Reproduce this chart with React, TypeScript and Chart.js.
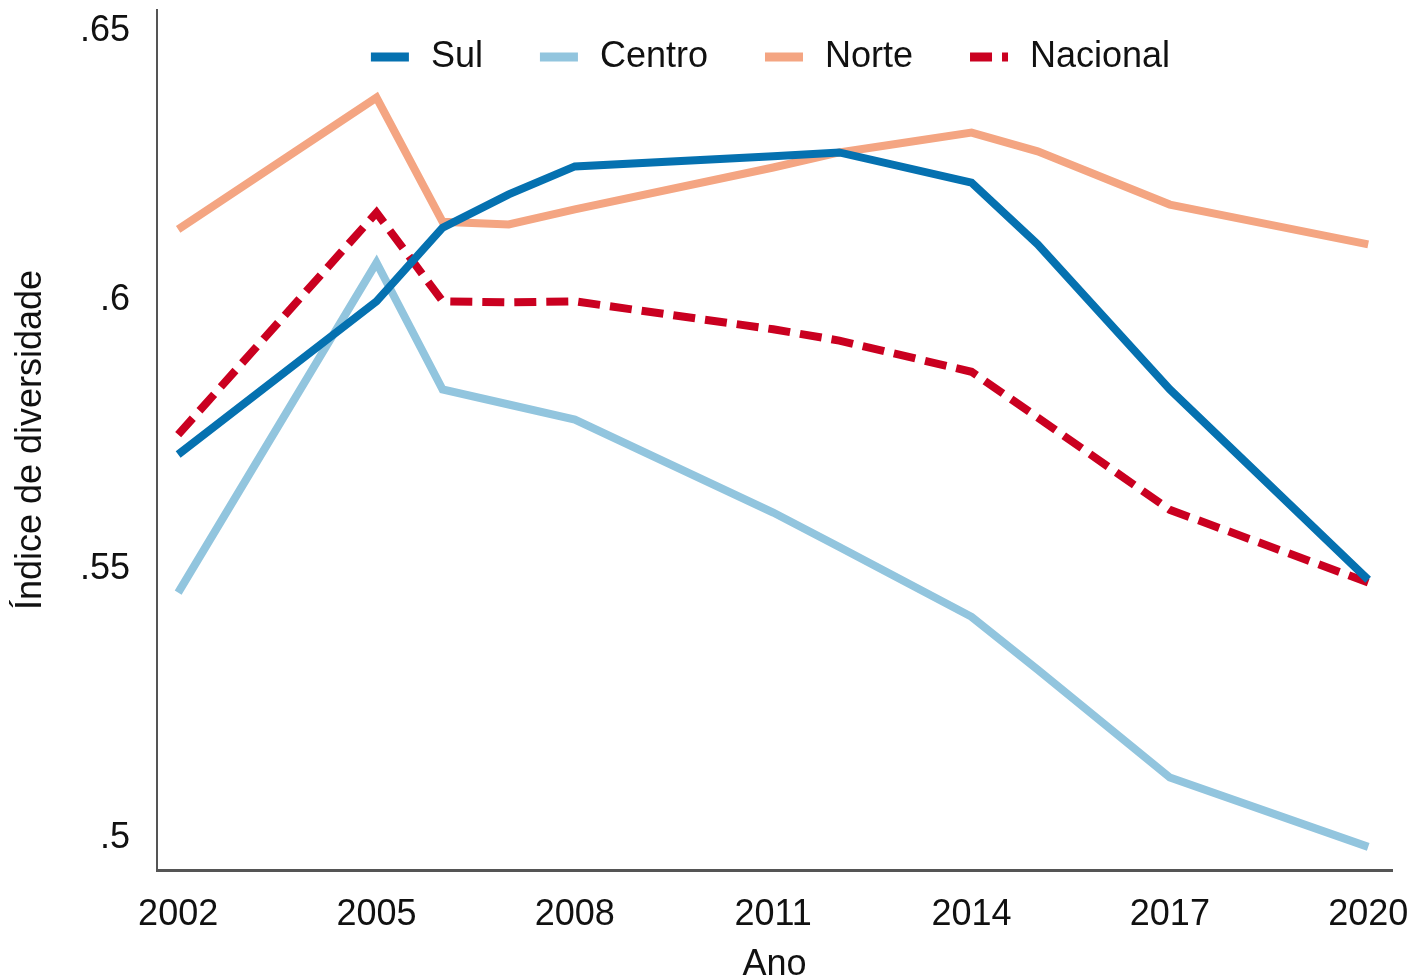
import React, { useEffect, useRef } from "react";
import { Chart, registerables } from "chart.js";

Chart.register(...registerables);

const FONT = "'Liberation Sans', Arial, Helvetica, sans-serif";

// Data
const years = [2002, 2005, 2006, 2007, 2008, 2011, 2012, 2014, 2015, 2017, 2020];
const sul = [0.5713, 0.5998, 0.6135, 0.6197, 0.6249, 0.6268, 0.6275, 0.6219, 0.6104, 0.5834, 0.548];
const centro = [0.5456, 0.607, 0.5834, 0.5806, 0.5778, 0.5605, 0.5541, 0.5411, 0.5313, 0.5112, 0.4983];
const norte = [0.6132, 0.6377, 0.6146, 0.6141, 0.6169, 0.6247, 0.6275, 0.6312, 0.6277, 0.6178, 0.6104];
const nacional = [0.575, 0.6163, 0.5998, 0.5996, 0.5998, 0.5946, 0.5925, 0.5867, 0.5782, 0.561, 0.5475];

const seriesNames = ["Sul", "Centro", "Norte", "Nacional"];
const xTicks = [2002, 2005, 2008, 2011, 2014, 2017, 2020];
const yTicks = [0.5, 0.55, 0.6, 0.65];
const xTitle = "Ano";
const yTitle = "Índice de diversidade";

const colors = ["#0571b0", "#92c5de", "#f4a582", "#ca0020"];

const toPoints = (vals: number[]) => years.map((y, i) => ({ x: y, y: vals[i] }));

const insideLegend = {
  id: "insideLegend",
  afterDraw(chart: any) {
    const ctx: CanvasRenderingContext2D = chart.ctx;
    const area = chart.chartArea;
    ctx.save();
    ctx.font = `36px ${FONT}`;
    const sw = 38;
    const gapText = 22;
    const gapItem = 57;
    const items = chart.data.datasets.map((ds: any) => ({ ds, w: ctx.measureText(ds.label).width }));
    const total =
      items.reduce((s: number, it: any) => s + sw + gapText + it.w, 0) + gapItem * (items.length - 1);
    let x = (area.left + area.right) / 2 - total / 2 - 4;
    const y = area.top + 47;
    for (const it of items) {
      ctx.beginPath();
      ctx.strokeStyle = it.ds.borderColor;
      ctx.lineWidth = 9;
      ctx.setLineDash(it.ds.borderDash || []);
      ctx.moveTo(x, y);
      ctx.lineTo(x + sw, y);
      ctx.stroke();
      ctx.setLineDash([]);
      ctx.fillStyle = "#111";
      ctx.textBaseline = "middle";
      ctx.textAlign = "left";
      ctx.fillText(it.ds.label, x + sw + gapText, y);
      x += sw + gapText + it.w + gapItem;
    }
    ctx.restore();
  },
};

const zeroPad = (s: any) => {
  s.paddingTop = 0;
  s.paddingBottom = 0;
  s.paddingLeft = 0;
  s.paddingRight = 0;
};

export default function App() {
  const canvasRef = useRef<HTMLCanvasElement | null>(null);

  useEffect(() => {
    document.body.style.margin = "0";
    const canvas = canvasRef.current;
    if (!canvas) return;
    const series = [sul, centro, norte, nacional];
    const chart = new Chart(canvas, {
      type: "line",
      data: {
        datasets: series.map((vals, i) => ({
          label: seriesNames[i],
          data: toPoints(vals),
          borderColor: colors[i],
          backgroundColor: colors[i],
          borderWidth: 8,
          borderDash: i === 3 ? [22, 10] : [],
          pointRadius: 0,
          tension: 0,
          fill: false,
        })),
      },
      options: {
        responsive: false,
        animation: false,
        layout: { padding: { top: 10, right: 22, left: 0, bottom: 0 } },
        plugins: {
          legend: { display: false },
          tooltip: { enabled: false },
        },
        scales: {
          x: {
            type: "linear",
            min: 2001.68,
            max: 2020.36,
            afterBuildTicks: (s: any) => {
              s.ticks = xTicks.map((v) => ({ value: v }));
            },
            afterFit: (s: any) => {
              s.height = 110;
              zeroPad(s);
            },
            grid: { display: false, drawTicks: false },
            border: { display: true, color: "#555", width: 3 },
            ticks: {
              padding: 23,
              color: "#111",
              font: { family: FONT, size: 36 },
              maxRotation: 0,
              autoSkip: false,
              callback: (v: any) => String(v),
            },
            title: {
              display: true,
              text: xTitle,
              color: "#111",
              font: { family: FONT, size: 36, lineHeight: 1 },
              padding: { top: 0, bottom: -3 },
            },
          },
          y: {
            type: "linear",
            min: 0.494,
            max: 0.654,
            afterBuildTicks: (s: any) => {
              s.ticks = yTicks.map((v) => ({ value: v }));
            },
            afterFit: (s: any) => {
              s.width = 157;
              zeroPad(s);
            },
            grid: { display: false, drawTicks: false },
            border: { display: true, color: "#555", width: 2 },
            ticks: {
              padding: 27,
              color: "#111",
              font: { family: FONT, size: 36 },
              callback: (v: any) => String(v).replace(/^0/, ""),
            },
            title: {
              display: true,
              text: yTitle,
              color: "#111",
              font: { family: FONT, size: 36, lineHeight: 1 },
              padding: { top: 13, bottom: 0 },
            },
          },
        },
      },
      plugins: [insideLegend],
    } as any);
    return () => chart.destroy();
  }, []);

  return (
    <div style={{ position: "absolute", left: 0, top: 0, width: 1414, height: 980, background: "#fff" }}>
      <canvas ref={canvasRef} width={1414} height={980} style={{ display: "block", width: 1414, height: 980 }} />
    </div>
  );
}
